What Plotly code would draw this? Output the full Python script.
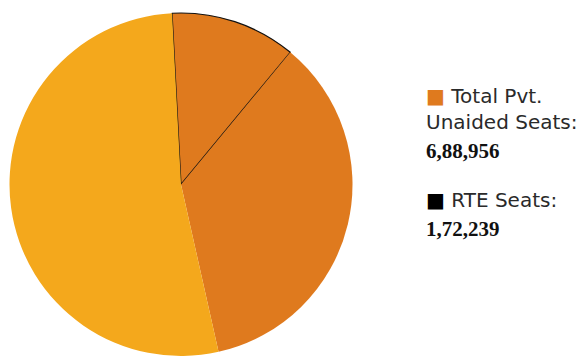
import plotly.graph_objects as go

# Data
slice_labels = ["RTE Seats", "Other Pvt. Unaided Seats", "Remaining Seats"]
slice_values = [172239, 516717, 767000]
slice_colors = ["#DF7A1E", "#DF7A1E", "#F4A81C"]
line_colors = ["#111111", "#DF7A1E", "#F4A81C"]
line_widths = [1.2, 0, 0]

legend_titles = ["Total Pvt.<br>Unaided Seats:", "RTE Seats:"]
legend_values = ["6,88,956", "1,72,239"]
legend_colors = ["#DF7A1E", "#000000"]

W, H = 588, 356
fig = go.Figure()
fig.add_trace(go.Pie(
    labels=slice_labels,
    values=slice_values,
    sort=False,
    direction="clockwise",
    rotation=-3,
    textinfo="none",
    hoverinfo="label+value",
    marker=dict(colors=slice_colors, line=dict(color=line_colors, width=line_widths)),
    domain=dict(x=[9 / W, 353 / W], y=[0, 343 / H]),
    showlegend=False,
))

def py(ypx):
    return 1 - ypx / H

text_color = "#2a2a2a"
sans = "DejaVu Sans, Open Sans, sans-serif"
serif = "Liberation Serif, Times New Roman, serif"

title_y = [108.5, 200]
value_y = [151, 229]
annotations = []
for t, v, c, ty, vy in zip(legend_titles, legend_values, legend_colors, title_y, value_y):
    annotations.append(dict(
        x=425 / W, y=py(ty), xref="paper", yref="paper", xanchor="left", yanchor="middle",
        align="left", borderpad=0,
        text="<span style='color:%s'>■</span> %s" % (c, t), showarrow=False,
        font=dict(family=sans, size=20, color=text_color)))
    annotations.append(dict(
        x=425 / W, y=py(vy), xref="paper", yref="paper", xanchor="left", yanchor="middle",
        borderpad=0,
        text="<b>" + v + "</b>", showarrow=False,
        font=dict(family=serif, size=21, color="#111111")))

fig.update_layout(
    width=W, height=H,
    margin=dict(l=0, r=0, t=0, b=0),
    paper_bgcolor="white",
    plot_bgcolor="white",
    annotations=annotations,
)

fig.write_html("out.html")
